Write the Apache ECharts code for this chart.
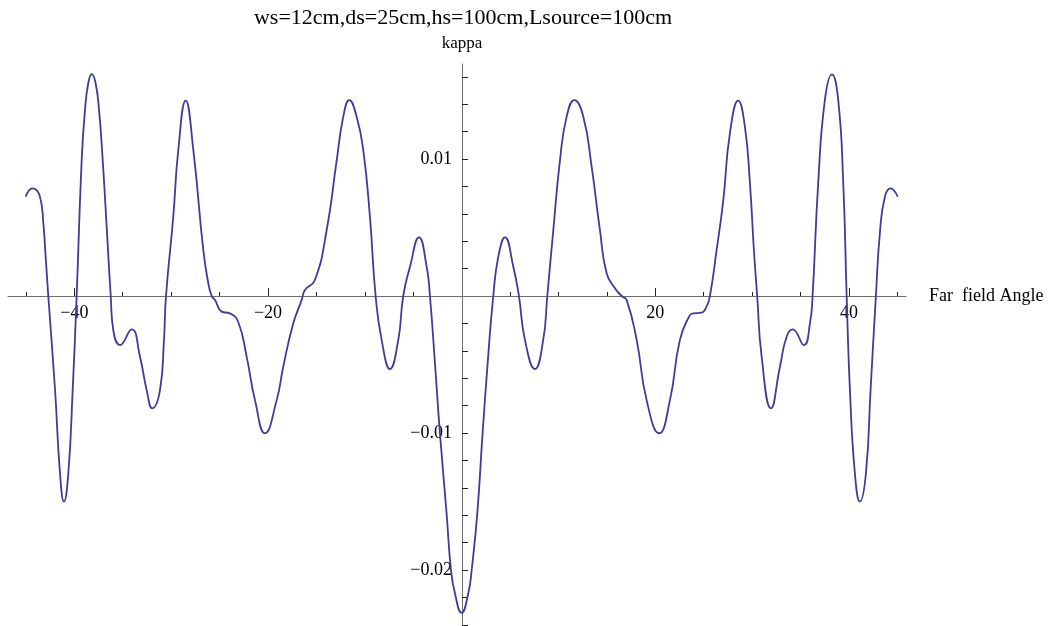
<!DOCTYPE html>
<html>
<head>
<meta charset="utf-8">
<script src="https://cdn.jsdelivr.net/npm/echarts@6/dist/echarts.min.js"></script>
<style>
  html, body { margin: 0; padding: 0; background: #fff; }
  #main { width: 1049px; height: 626px; }
</style>
</head>
<body>
<div id="main"></div>
<script>
// curve (far field angle, kappa)
var angle = [
  -45.02, -44.34, -43.55, -43.2, -42.96, -42.69, -41.99, -41.48, -41.07, -40.62,
  -40.17, -39.76, -39.24, -38.9, -38.56, -38.2, -37.8, -37.45, -37.07, -36.66,
  -36.24, -35.98, -35.28,
  -34.08, -33.22, -32.53, -31.95, -31.15, -30.74, -30.53, -29.78, -29.26, -28.5,
  -27.71, -26.68, -26.16, -25.81, -25.47, -24.78, -23.92, -23.07, -22.2, -21.34,
  -20.31, -19.1, -18.42, -17.39, -16.52, -16.18, -15.15, -13.94, -12.9, -12.22,
  -11.6, -10.84, -10.16, -9.47, -8.88, -8.26, -7.4, -6.54, -6.03, -5.33,
  -4.4, -3.61, -3.27, -2.75, -2.24, -1.55, -1.1, -0.69,
  0,
  0.69, 1.04, 1.62, 2.17, 2.69, 3.27, 3.79, 4.48, 5.34, 5.92, 6.54,
  7.57, 8.43, 8.85, 9.47, 10.16, 10.85, 11.64, 12.57, 13.43, 14.29,
  14.98, 15.84, 16.53, 17.05, 18.08, 19.11, 20.41, 21.52, 22.55, 23.58,
  23.92, 24.79, 25.3, 25.65, 26.34, 27.03, 27.71, 28.57, 29.26, 29.78,
  30.19, 30.53, 30.99, 31.95, 32.88, 33.57, 34.19, 35.36, 35.98, 36.25,
  36.83, 37.52, 38.25, 38.9, 39.42, 39.77, 40.11, 40.62, 41.14, 41.76,
  42.24, 42.79, 43.2, 43.72, 44.31, 45.05
];
var kappa = [
  0.00725, 0.00786, 0.00725, 0.0053, 0.00287, 0, -0.00686, -0.01294, -0.01501, -0.01294,
  -0.00686, 0, 0.00993, 0.01358, 0.01553, 0.0162, 0.01553, 0.01358, 0.00993, 0.00506,
  0, -0.00248, -0.00358,
  -0.00243, -0.00443, -0.00686, -0.0082, -0.00686, -0.0032, 0, 0.0058, 0.01066, 0.01426,
  0.01066, 0.00336, 0.00092, 0, -0.0003, -0.00114, -0.00127, -0.0019, -0.00443, -0.0076,
  -0.01002, -0.0076, -0.00516, -0.002, -0.0003, 0.00044, 0.00117, 0.0048, 0.0099, 0.01309,
  0.0143, 0.01309, 0.01066, 0.0058, 0, -0.0032, -0.00533, -0.0032, 0, 0.00214,
  0.00428, 0.00214, 0, -0.00492, -0.01, -0.01587, -0.02, -0.0217,
  -0.02313,
  -0.0217, -0.02, -0.01587, -0.01, -0.00492, 0, 0.00287, 0.00428, 0.00214, 0, -0.0032,
  -0.00533, -0.0032, 0, 0.0048, 0.0099, 0.01309, 0.0143, 0.01309, 0.00944, 0.0048,
  0.00166, 0.00056, 0, -0.0003, -0.0032, -0.0076, -0.01002, -0.0076, -0.0032, -0.00139,
  -0.00127, -0.00122, -0.00078, 0, 0.00336, 0.007, 0.01187, 0.01426, 0.01236, 0.00822,
  0.00336, 0, -0.00443, -0.0082, -0.00516, -0.00297, -0.00243, -0.00358, -0.002, 0,
  0.00822, 0.0143, 0.01618, 0.0143, 0.00822, 0, -0.00686, -0.01294, -0.01501, -0.01294,
  -0.00686, 0, 0.00458, 0.00725, 0.00786, 0.00725
];
var xLabels = [-40, -20, 20, 40];
var xMinorTicks = [-45, -35, -30, -25, -15, -10, -5, 5, 10, 15, 25, 30, 35, 45];
var yLabels = [-0.02, -0.01, 0.01];
var yTicks = [-0.024, -0.022, -0.02, -0.018, -0.016, -0.014, -0.012, -0.01, -0.008, -0.006,
  -0.004, -0.002, 0.002, 0.004, 0.006, 0.008, 0.01, 0.012, 0.014, 0.016];

var data = angle.map(function (a, i) { return [a, kappa[i]]; });
var serif = 'Liberation Serif';
var axisGray = '#6e6e6e';

function minus(s) { return s.replace('-', '\u2212'); }

// grid box in pixels; axes are moved onto the zero lines with offset
var gLeft = 8, gRight = 143, gTop = 64, gBottom = 1;
var zeroY = 296, zeroX = 462;
var xOff = -((626 - gBottom) - zeroY);
var yOff = -(zeroX - gLeft);

var myChart = echarts.init(document.getElementById('main'));
myChart.setOption({
    animation: false,
    grid: { left: gLeft, right: gRight, top: gTop, bottom: gBottom, containLabel: false, outerBoundsMode: 'none' },
    graphic: [{
        type: 'text',
        style: {
            text: 'ws=12cm,ds=25cm,hs=100cm,Lsource=100cm',
            x: 463, y: 18,
            textAlign: 'center', textVerticalAlign: 'middle',
            font: '22px "Liberation Serif"', fill: '#000'
        }
    }],
    xAxis: [{
        type: 'value', position: 'bottom', offset: xOff,
        min: -46.85, max: 45.9,
        splitLine: { show: false },
        axisLine: { onZero: false, lineStyle: { color: axisGray, width: 1 } },
        axisTick: { inside: true, length: 8, customValues: xLabels, lineStyle: { color: '#222' } },
        axisLabel: {
            customValues: xLabels, margin: 8,
            fontFamily: serif, fontSize: 18, color: '#000',
            formatter: function (v) { return minus(String(v)); }
        },
        name: 'Far  field Angle', nameLocation: 'end', nameGap: 23,
        nameTextStyle: { fontFamily: serif, fontSize: 18, color: '#000' }
    }, {
        type: 'value', position: 'bottom', offset: xOff,
        min: -46.85, max: 45.9,
        splitLine: { show: false },
        axisLine: { show: false, onZero: false },
        axisTick: { inside: true, length: 4, customValues: xMinorTicks, lineStyle: { color: '#222' } },
        axisLabel: { show: false }
    }],
    yAxis: {
        type: 'value', position: 'left', offset: yOff,
        min: -0.024015, max: 0.016934,
        splitLine: { show: false },
        axisLine: { onZero: false, lineStyle: { color: axisGray, width: 1 } },
        axisTick: { inside: true, length: 6, customValues: yTicks, lineStyle: { color: '#222' } },
        axisLabel: {
            customValues: yLabels, margin: 10,
            fontFamily: serif, fontSize: 18, color: '#000',
            formatter: function (v) { return minus(v.toFixed(2)); }
        },
        name: 'kappa', nameLocation: 'end', nameGap: 12,
        nameTextStyle: { fontFamily: serif, fontSize: 17, color: '#000' }
    },
    series: [{
        type: 'line',
        data: data,
        smooth: 0.5,
        showSymbol: false,
        lineStyle: { color: '#3d3d99', width: 1.8 }
    }]
});
</script>
</body>
</html>
